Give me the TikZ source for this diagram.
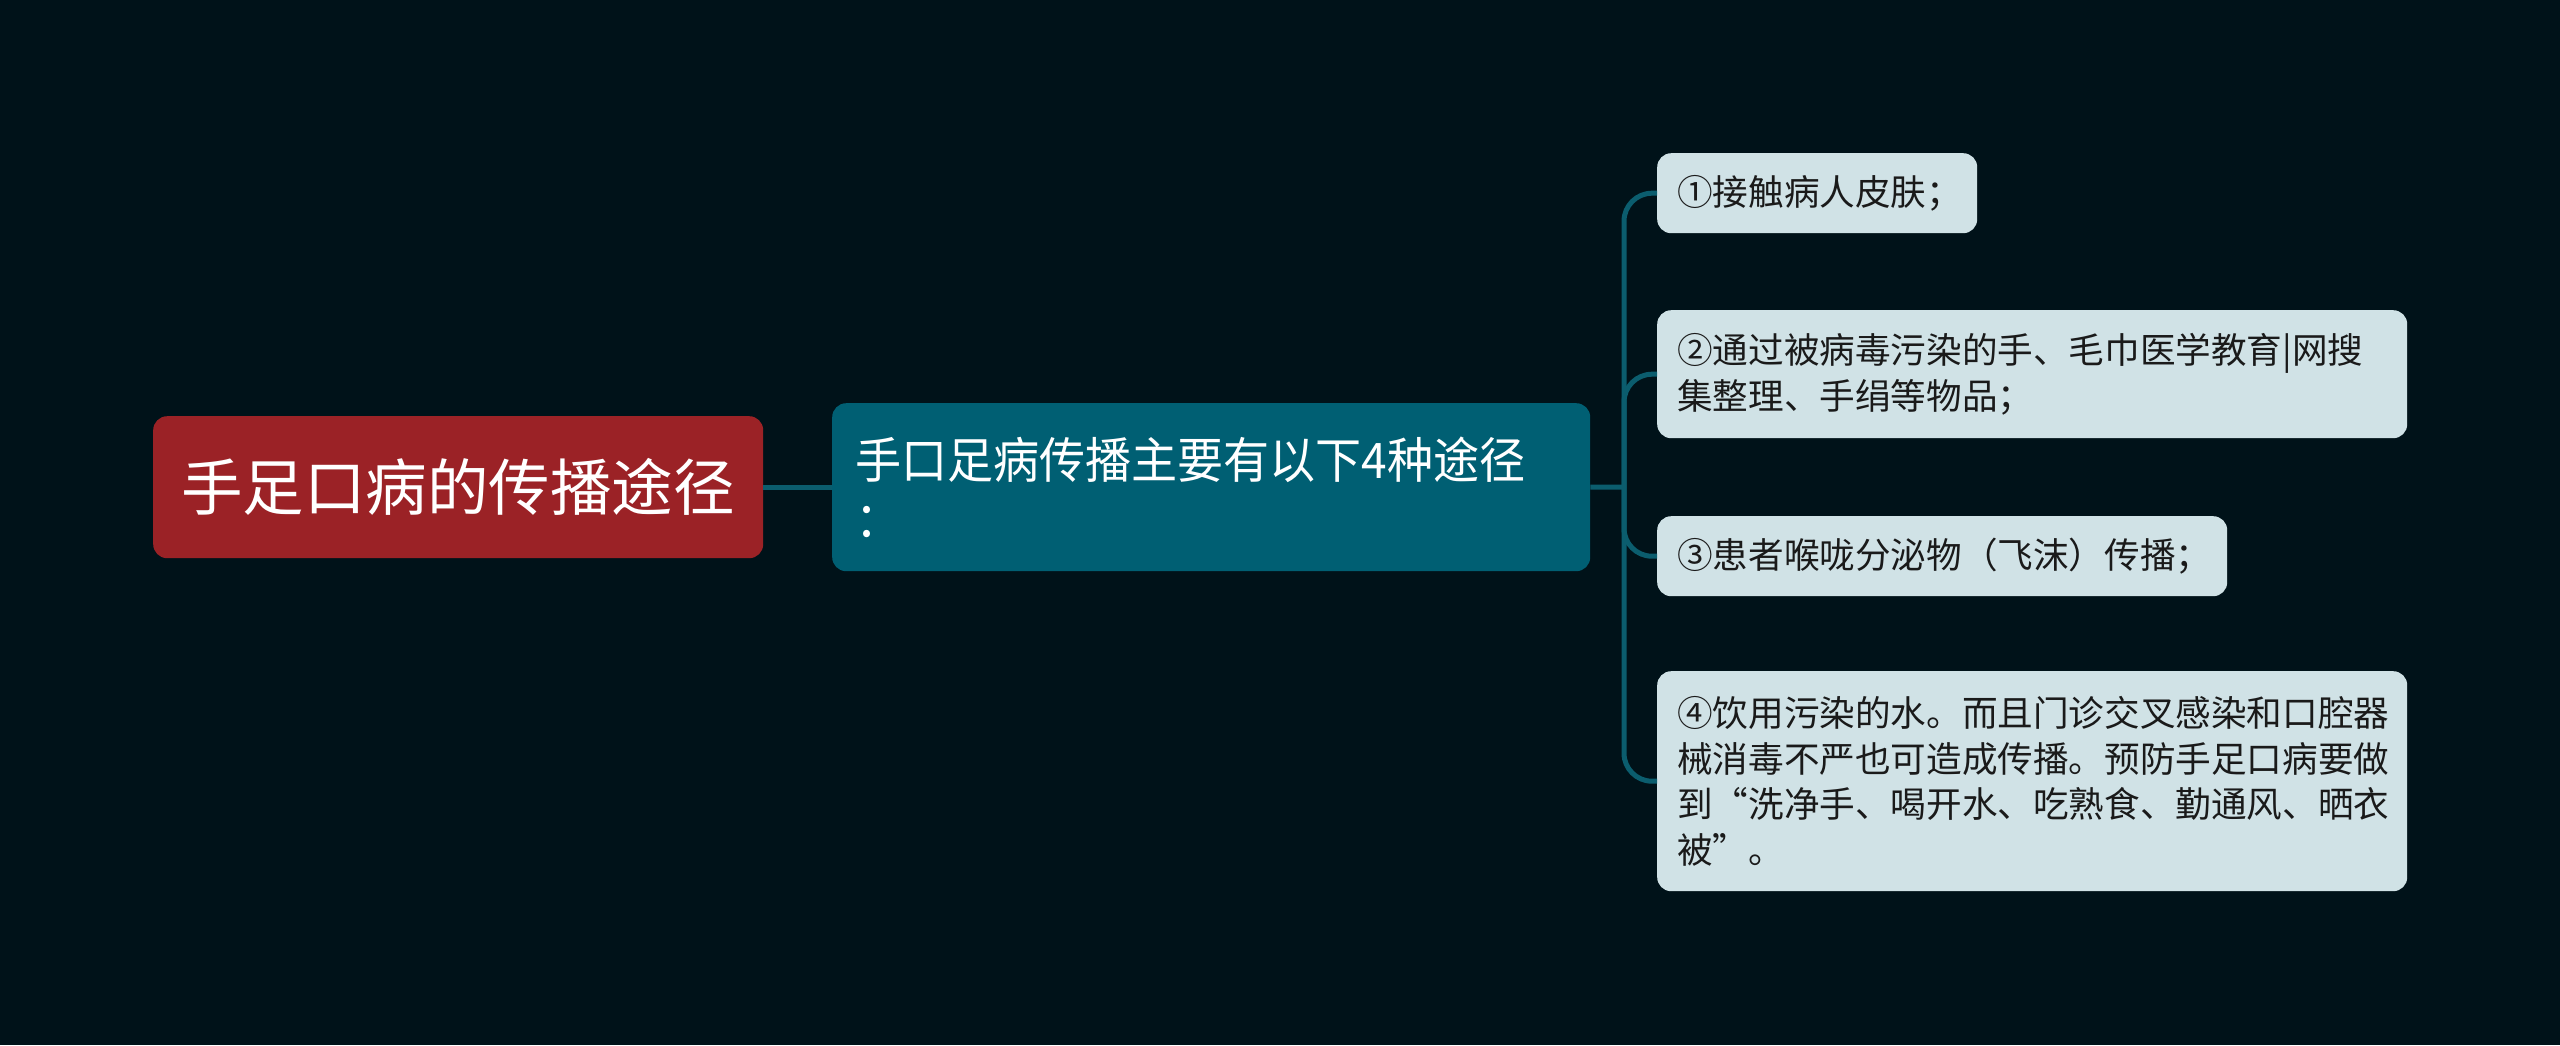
\documentclass[tikz,border=0pt]{standalone}
\usepackage{fontspec}
\setmainfont{Noto Sans CJK SC}
\newfontfamily\midfont[FakeStretch=0.94]{Noto Sans CJK SC}
\definecolor{bgc}{HTML}{001219}
\definecolor{rootc}{HTML}{9B2226}
\definecolor{midc}{HTML}{005F73}
\definecolor{leafc}{HTML}{D0E2E6}
\definecolor{linec}{HTML}{0B5D6E}
\definecolor{leaftext}{HTML}{1A1A1A}
\tikzset{
  rootbox/.style={draw=none, fill=rootc, rounded corners=14pt, text=white, align=center,
    minimum width=610pt, minimum height=142pt, inner sep=0pt,
    font=\fontsize{61.5}{72}\selectfont},
  midbox/.style={draw=none, fill=midc, rounded corners=14pt, text=white, align=left,
    text width=712pt, inner xsep=23pt, inner ysep=0pt, minimum height=168pt,
    font=\midfont\fontsize{49}{59}\selectfont},
  leafbox/.style={draw=none, fill=leafc, rounded corners=14pt, text=leaftext, align=left,
    inner xsep=20pt, inner ysep=0pt,
    font=\fontsize{35.6}{45.7}\selectfont},
  conn/.style={draw=linec, line width=5pt},
}
\begin{document}
\begin{tikzpicture}[x=1pt,y=-1pt]
\fill[bgc] (0,0) rectangle (2560,1045);
\useasboundingbox (0,0) rectangle (2560,1045);

\node[rootbox, anchor=north west] (root) at (153,416) {手足口病的传播途径};
\node[midbox, anchor=north west] (mid) at (832,403) {手口足病传播主要有以下4种途径\\：};

\node[leafbox, anchor=north west, text width=280pt, minimum height=80pt] (c1) at (1657,153) {①接触病人皮肤；};
\node[leafbox, anchor=north west, text width=710pt, minimum height=128pt] (c2) at (1657,310) {②通过被病毒污染的手、毛巾医学教育|网搜\\集整理、手绢等物品；};
\node[leafbox, anchor=north west, text width=530pt, minimum height=80pt] (c3) at (1657,516) {③患者喉咙分泌物（飞沫）传播；};
\node[leafbox, anchor=north west, text width=710pt, minimum height=220pt] (c4) at (1657,671) {④饮用污染的水。而且门诊交叉感染和口腔器\\械消毒不严也可造成传播。预防手足口病要做\\到“洗净手、喝开水、吃熟食、勤通风、晒衣\\被”。};

\coordinate (j) at (1624,487);
\draw[conn] (root.east) -- (mid.west);
\draw[conn] (mid.east) -- (j);
\foreach \c in {c1,c2,c3,c4}{
  \draw[conn, rounded corners=28pt] (j) |- (\c.west);
}
\end{tikzpicture}
\end{document}
